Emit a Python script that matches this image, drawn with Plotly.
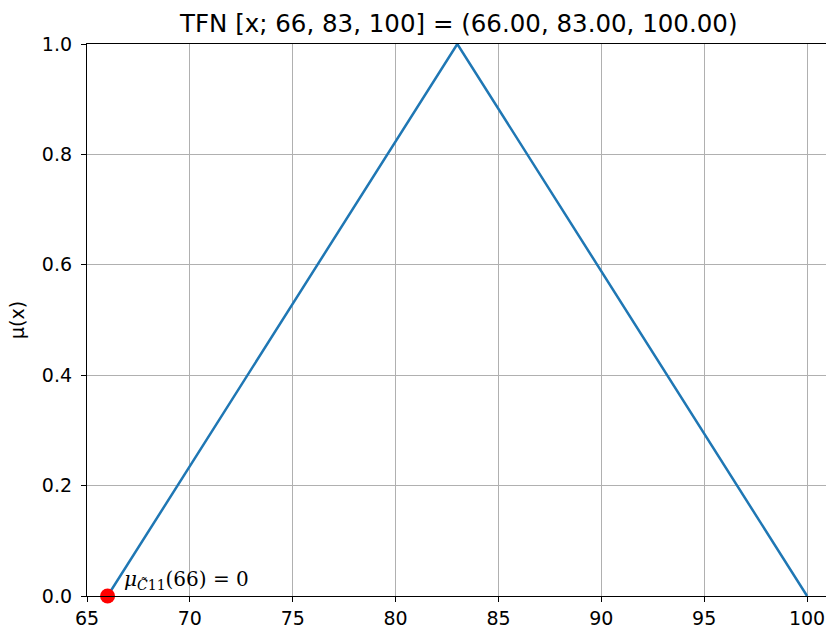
import plotly.graph_objects as go

x_vals = [66, 83, 100]
mu_vals = [0, 1, 0]
pt_x = [66]
pt_y = [0]
x_ticks = [65, 70, 75, 80, 85, 90, 95, 100]
y_ticks = [0.0, 0.2, 0.4, 0.6, 0.8, 1.0]
title_text = "TFN [x; 66, 83, 100] = (66.00, 83.00, 100.00)"

W, H = 826, 635
L, R, T, B = 87, 0, 44, 39

fig = go.Figure()
fig.add_trace(go.Scatter(x=x_vals, y=mu_vals, mode="lines",
                         line=dict(color="#1f77b4", width=2.5), showlegend=False,
                         cliponaxis=False))
fig.add_trace(go.Scatter(x=pt_x, y=pt_y, mode="markers",
                         marker=dict(color="red", size=15, line=dict(width=0)),
                         showlegend=False, cliponaxis=False))

fig.add_annotation(x=pt_x[0], y=pt_y[0], xref="x", yref="y",
                   text="<i>μ</i><sub><i>C̃</i>11</sub>(66) = 0",
                   showarrow=False, xanchor="left", yanchor="bottom",
                   xshift=14, yshift=1,
                   font=dict(family="DejaVu Serif", size=20, color="black"))

plot_w = W - L - R
fig.add_annotation(x=(458 - L) / plot_w, y=1, xref="paper", yref="paper",
                   text=title_text, showarrow=False, xanchor="center", yanchor="bottom",
                   yshift=4, font=dict(family="DejaVu Sans", size=24.5, color="black"))

fig.update_layout(
    width=W, height=H,
    margin=dict(l=L, r=R, t=T, b=B),
    plot_bgcolor="white", paper_bgcolor="white",
    font=dict(family="DejaVu Sans", size=19, color="black"),
    xaxis=dict(range=[65, 100.92], tickvals=x_ticks, ticktext=[str(v) for v in x_ticks],
               showgrid=True, gridcolor="#b0b0b0", gridwidth=1.2,
               showline=True, linecolor="black", linewidth=1.3, mirror=True,
               ticks="outside", ticklen=5, tickwidth=1.3, tickcolor="black",
               zeroline=False),
    yaxis=dict(range=[0, 1], tickvals=y_ticks, ticktext=[f"{v:.1f}" for v in y_ticks],
               showgrid=True, gridcolor="#b0b0b0", gridwidth=1.2,
               showline=True, linecolor="black", linewidth=1.3, mirror=False,
               ticks="outside", ticklen=5, tickwidth=1.3, tickcolor="black",
               ticklabelstandoff=5, zeroline=False,
               title=dict(text="μ(x)", standoff=12, font=dict(size=19))),
)

fig.write_html("out.html", config={"displayModeBar": False},
               post_script="document.body.style.margin='0';")
